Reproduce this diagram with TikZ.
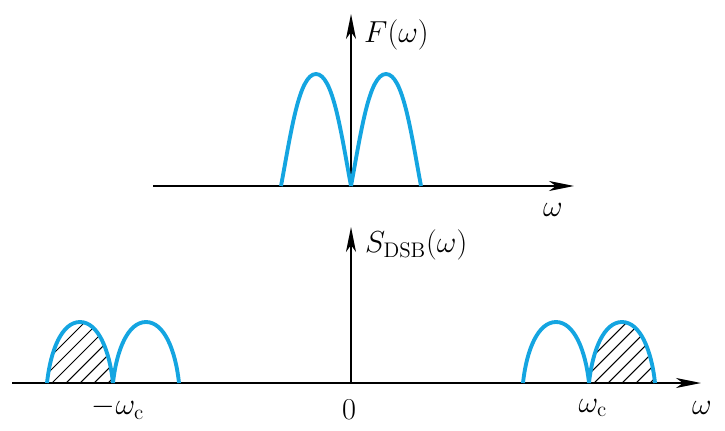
\documentclass[tikz,border=0pt]{standalone}
\usetikzlibrary{arrows.meta}
\usepackage{amsmath}

\definecolor{specblue}{RGB}{20,165,225}

\begin{document}
\begin{tikzpicture}[
    axis/.style={line width=1.1pt,-{Stealth[length=0.5cm,width=0.2cm,inset=0.14cm]}},
    lobe/.style={line width=2.2pt,specblue},
    hatch/.style={line width=0.6pt},
    lbl/.style={font=\fontsize{17}{20}\selectfont}
]
\useasboundingbox (0,0) rectangle (14.5,8.6);

% upper spectrum F(omega)
\draw[axis] (3.06,4.88) -- (11.48,4.88);
\draw[axis] (7.02,4.88) -- (7.02,8.32);
\node[lbl,anchor=west] (fw) at (7.16,7.9) {$F(\omega)$};
\node[lbl] (wtop) at (11.06,4.4) {$\omega$};

\foreach \a in {5.62,7.02} {
    \draw[lobe] (\a,4.88) .. controls (\a+0.2,5.95) and (\a+0.36,7.12) .. (\a+0.7,7.12)
          .. controls (\a+1.04,7.12) and (\a+1.2,5.95) .. (\a+1.4,4.88);
}

% lower spectrum S_DSB(omega)
\draw[axis] (0.24,0.94) -- (14.02,0.94);
\draw[axis] (7.02,0.94) -- (7.02,4.06);
\node[lbl,anchor=west] (sw) at (7.18,3.7) {$S_{\mathrm{DSB}}(\omega)$};

% hatched outer sidebands
\foreach \a in {0.94,11.78} {
    \begin{scope}
        \clip (\a,0.94) .. controls (\a+0.07,1.6) and (\a+0.3,2.16) .. (\a+0.66,2.16)
              .. controls (\a+1.02,2.16) and (\a+1.25,1.6) .. (\a+1.32,0.94) -- cycle;
        \foreach \k in {-1.3,-1.02,...,1.4} {
            \draw[hatch] (\a+\k,0.94) -- ++(1.4,1.4);
        }
    \end{scope}
}

\foreach \a in {0.94,2.26,10.46,11.78} {
    \draw[lobe] (\a,0.94) .. controls (\a+0.07,1.6) and (\a+0.3,2.16) .. (\a+0.66,2.16)
          .. controls (\a+1.02,2.16) and (\a+1.25,1.6) .. (\a+1.32,0.94);
}

\node[lbl] (mwc) at (2.36,0.44) {$-\omega_{\mathrm{c}}$};
\node[lbl] (zero) at (6.98,0.4) {$0$};
\node[lbl] (wc) at (11.86,0.44) {$\omega_{\mathrm{c}}$};
\node[lbl] (wbot) at (14.04,0.44) {$\omega$};
\end{tikzpicture}
\end{document}
